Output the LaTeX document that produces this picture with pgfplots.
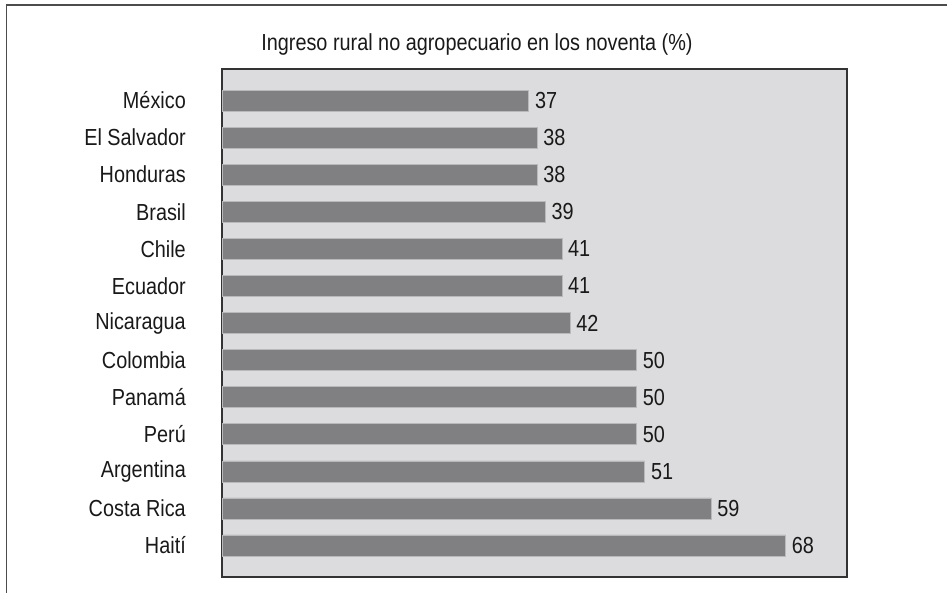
\documentclass[border=0pt]{standalone}
\usepackage{fontspec}
\setmainfont{Liberation Sans}[FakeStretch=0.855]
\usepackage{pgfplots}
\pgfplotsset{compat=1.18}
\definecolor{bg}{RGB}{220,220,222}
\definecolor{barc}{RGB}{128,128,131}
\definecolor{baredge}{RGB}{185,185,188}
\definecolor{txt}{RGB}{25,25,25}
\newcommand{\fs}{\fontsize{23.3}{28}\selectfont}
\begin{document}
\begin{tikzpicture}
\path[use as bounding box] (0bp,0bp) rectangle (947bp,-593bp);
\draw[line width=1.5bp, black!70] (6.5bp,-593bp) -- (6.5bp,-5bp) -- (947bp,-5bp);
\node[font=\fs, text=txt, anchor=base, inner sep=0pt] at (477bp,-50bp) {Ingreso rural no agropecuario en los noventa (\%)};
\begin{axis}[
  at={(222bp,-577bp)}, anchor=south west,
  scale only axis, width=625bp, height=508bp,
  xbar, bar width=21bp,
  xmin=0, xmax=75.4, ymin=-0.85, ymax=12.85, y dir=reverse,
  ytick={0,...,12},
  yticklabels={México,El Salvador,Honduras,Brasil,Chile,Ecuador,Nicaragua,Colombia,Panamá,Perú,Argentina,Costa Rica,Haití},
  xtick=\empty,
  major tick length=0pt,
  yticklabel style={font=\fs, text=txt, inner sep=0pt, anchor=east, xshift=-36bp},
  axis background/.style={fill=bg},
  axis line style={black!80, line width=1.2bp},
  /pgf/number format/assume math mode=true,
  nodes near coords,
  nodes near coords style={font=\fs, text=txt, anchor=west, inner sep=0pt, xshift=6bp},
  clip=false,
]
\addplot[fill=barc, draw=baredge, line width=0.6bp] coordinates {
(37,0) (38,1) (38,2) (39,3) (41,4) (41,5) (42,6) (50,7) (50,8) (50,9) (51,10) (59,11) (68,12)
};
\end{axis}
\end{tikzpicture}
\end{document}
